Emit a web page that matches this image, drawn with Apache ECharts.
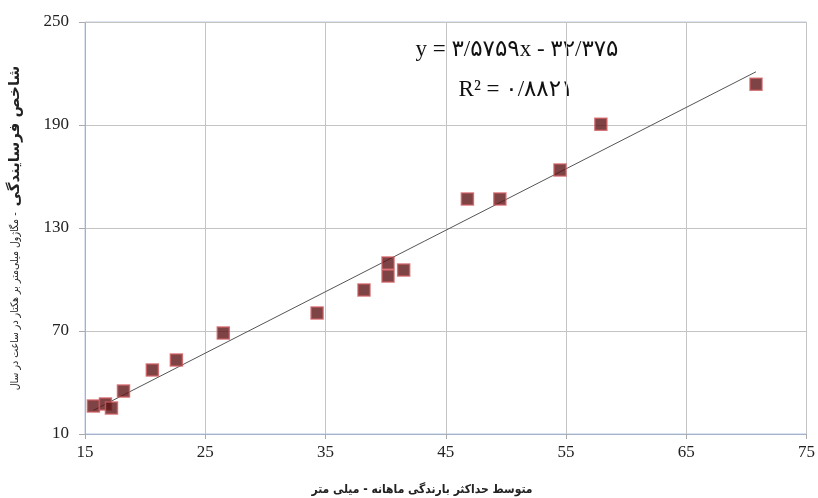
<!DOCTYPE html>
<html>
<head>
<meta charset="utf-8">
<script src="https://cdn.jsdelivr.net/npm/echarts@6/dist/echarts.min.js"></script>
<style>html,body{margin:0;padding:0;background:#fff}#c{width:818px;height:498px}</style>
</head>
<body>
<div id="c"></div>
<script>
var rainX = [15.7, 16.7, 17.2, 18.2, 20.6, 22.6, 26.5, 34.3, 38.2, 40.2, 40.2, 41.5, 46.8, 49.5, 54.5, 57.9, 70.8];
var erosY = [26.3, 27.5, 25.1, 35.0, 47.3, 53.1, 68.8, 80.5, 93.9, 109.6, 102.0, 105.5, 146.9, 146.9, 163.8, 190.5, 213.8];
var trendX = [15.7, 70.8];
var trendY = [23.8, 221.0];
var xTicks = [15, 25, 35, 45, 55, 65, 75];
var yTicks = [10, 70, 130, 190, 250];

var pts = rainX.map(function (x, i) { return [x, erosY[i]]; });
var trend = trendX.map(function (x, i) { return [x, trendY[i]]; });

var chart = echarts.init(document.getElementById('c'), null, {renderer: 'canvas'});
chart.setOption({
  animation: false,
  backgroundColor: '#fff',
  grid: {left: 84, right: 11, top: 22, bottom: 64, show: true, borderColor: '#b9c9e3', borderWidth: 1, backgroundColor: 'transparent'},
  xAxis: {
    type: 'value', min: 15, max: 75, interval: 10,
    axisLine: {show: true, lineStyle: {color: '#9aaed0', type: 'dotted'}},
    axisTick: {show: true, length: 5, lineStyle: {color: '#aaa'}},
    splitLine: {show: true, lineStyle: {color: '#c4c4c4', width: 1}},
    axisLabel: {color: '#222', fontFamily: 'Liberation Serif', fontSize: 17, margin: 10,
      formatter: function (v) { return xTicks.indexOf(v) >= 0 ? String(v) : ''; }}
  },
  yAxis: {
    type: 'value', min: 10, max: 250, interval: 60,
    axisLine: {show: true, lineStyle: {color: '#9aaed0', type: 'dotted'}},
    axisTick: {show: true, length: 6, lineStyle: {color: '#aaa'}},
    splitLine: {show: true, lineStyle: {color: '#c4c4c4', width: 1}},
    axisLabel: {color: '#222', fontFamily: 'Liberation Serif', fontSize: 17, margin: 16,
      formatter: function (v) { return yTicks.indexOf(v) >= 0 ? String(v) : ''; }},
    name: '{s|مگاژول میلی‌متر بر هکتار در ساعت در سال}{s| -  }{b|شاخص فرسایندگی}',
    nameLocation: 'middle', nameRotate: 90, nameGap: 62,
    nameTextStyle: {
      rich: {
        s: {fontFamily: 'DejaVu Sans Condensed', fontSize: 10.5, color: '#222'},
        b: {fontFamily: 'DejaVu Sans', fontSize: 15, fontWeight: 'bold', color: '#222'}
      }
    }
  },
  graphic: [
    {type: 'text', style: {text: 'متوسط حداکثر بارندگی ماهانه - میلی متر', x: 422, y: 490, align: 'center', verticalAlign: 'middle', font: 'bold 12px "DejaVu Sans Condensed", "DejaVu Sans"', fill: '#222'}},
    {type: 'text', style: {text: 'y = ۳/۵۷۵۹x - ۳۲/۳۷۵', x: 517, y: 50, align: 'center', verticalAlign: 'middle', font: '23px "Liberation Serif", "DejaVu Sans"', fill: '#111'}},
    {type: 'text', style: {text: 'R² = ۰/۸۸۲۱', x: 516, y: 90, align: 'center', verticalAlign: 'middle', font: '23px "Liberation Serif", "DejaVu Sans"', fill: '#111'}}
  ],
  series: [
    {type: 'line', data: trend, symbol: 'none', lineStyle: {color: '#555', width: 1}, z: 2},
    {type: 'scatter', data: pts, symbol: 'rect', symbolSize: 12,
      itemStyle: {color: '#5e1517', borderColor: '#cf5d60', borderWidth: 1.5}, z: 3}
  ]
});
</script>
</body>
</html>
